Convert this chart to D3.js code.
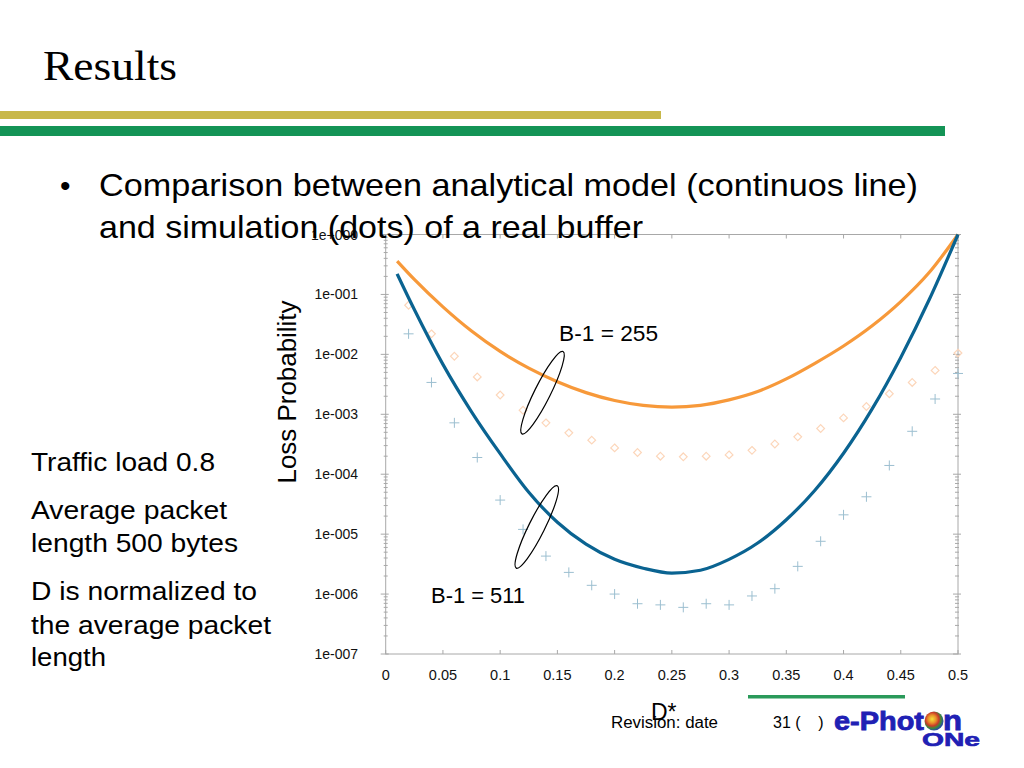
<!DOCTYPE html>
<html>
<head>
<meta charset="utf-8">
<script src="https://cdn.jsdelivr.net/npm/d3@7"></script>
<style>
html,body{margin:0;padding:0;background:#fff;}
svg{display:block;}
text{font-family:"Liberation Sans",Arial,sans-serif;}
</style>
</head>
<body>
<svg id="c" width="1024" height="768"></svg>
<script>
// ---------------- data ----------------
const xTicks = [0, 0.05, 0.1, 0.15, 0.2, 0.25, 0.3, 0.35, 0.4, 0.45, 0.5];
const xTickLabels = ["0", "0.05", "0.1", "0.15", "0.2", "0.25", "0.3", "0.35", "0.4", "0.45", "0.5"];
const yTicks = [1e-7, 1e-6, 1e-5, 1e-4, 1e-3, 1e-2, 1e-1, 1];
const yTickLabels = ["1e-007", "1e-006", "1e-005", "1e-004", "1e-003", "1e-002", "1e-001", "1e+000"];

// analytical model (continuous lines)
const curveD = [0.01, 0.025, 0.05, 0.075, 0.1, 0.125, 0.15, 0.175, 0.2, 0.225, 0.25,
                0.275, 0.3, 0.325, 0.35, 0.375, 0.4, 0.425, 0.45, 0.475, 0.5];
const model255 = [0.36, 0.178, 6.2e-2, 2.45e-2, 1.12e-2, 5.9e-3, 3.5e-3, 2.3e-3, 1.7e-3, 1.41e-3, 1.32e-3,
                  1.41e-3, 1.74e-3, 2.4e-3, 3.9e-3, 7.1e-3, 1.38e-2, 3.0e-2, 7.6e-2, 0.234, 1.0];
const model511 = [0.22, 5.6e-2, 6.8e-3, 1.1e-3, 2.2e-4, 5.0e-5, 1.58e-5, 6.8e-6, 3.8e-6, 2.7e-6, 2.24e-6,
                  2.5e-6, 3.8e-6, 7.1e-6, 1.74e-5, 5.4e-5, 2.24e-4, 1.23e-3, 8.9e-3, 8.3e-2, 1.0];

// simulation (dots)
const simD = [0.02, 0.04, 0.06, 0.08, 0.10, 0.12, 0.14, 0.16, 0.18, 0.20, 0.22, 0.24, 0.26,
              0.28, 0.30, 0.32, 0.34, 0.36, 0.38, 0.40, 0.42, 0.44, 0.46, 0.48, 0.50];
const sim255 = [6.6e-2, 2.2e-2, 9.3e-3, 4.2e-3, 2.1e-3, 1.17e-3, 7.2e-4, 4.9e-4, 3.7e-4, 2.75e-4, 2.3e-4, 2.0e-4, 1.95e-4,
                2.0e-4, 2.1e-4, 2.5e-4, 3.2e-4, 4.2e-4, 5.8e-4, 8.7e-4, 1.35e-3, 2.2e-3, 3.4e-3, 5.4e-3, 1.05e-2];
const sim511 = [2.2e-2, 3.4e-3, 7.2e-4, 1.9e-4, 3.7e-5, 1.2e-5, 4.3e-6, 2.3e-6, 1.4e-6, 1.0e-6, 6.9e-7, 6.6e-7, 6.0e-7,
                6.9e-7, 6.6e-7, 9.3e-7, 1.23e-6, 2.9e-6, 7.6e-6, 2.1e-5, 4.2e-5, 1.4e-4, 5.2e-4, 1.8e-3, 4.8e-3];

const seriesLabels = ["B-1 = 255", "B-1 = 511"];
const leftNotes = ["Traffic load 0.8", "Average packet", "length 500 bytes", "D is normalized to", "the average packet", "length"];

// ---------------- drawing ----------------
const svg = d3.select("#c");
const x = d3.scaleLinear().domain([0, 0.5]).range([385.7, 958]);
const y = d3.scaleLog().domain([1e-7, 1]).range([654, 234.5]);

// slide header
svg.append("text").attr("x", 43).attr("y", 80)
  .style("font-family", "'Liberation Serif','Times New Roman',serif")
  .attr("font-size", 42).attr("textLength", 134).attr("lengthAdjust", "spacingAndGlyphs")
  .text("Results");
svg.append("rect").attr("x", 0).attr("y", 111).attr("width", 661).attr("height", 8).attr("fill", "#c8b84a");
svg.append("rect").attr("x", 0).attr("y", 126).attr("width", 945).attr("height", 10).attr("fill", "#149456");

// chart frame
const g = svg.append("g");
const axisColor = "#a8a8a8";
g.append("rect").attr("x", x(0)).attr("y", y(1)).attr("width", x(0.5) - x(0)).attr("height", y(1e-7) - y(1))
  .attr("fill", "none").attr("stroke", axisColor).attr("stroke-width", 1);

// x ticks (bottom + top, inward)
xTicks.forEach((t, i) => {
  g.append("line").attr("x1", x(t)).attr("x2", x(t)).attr("y1", y(1e-7)).attr("y2", y(1e-7) - 4)
    .attr("stroke", axisColor);
  g.append("line").attr("x1", x(t)).attr("x2", x(t)).attr("y1", y(1)).attr("y2", y(1) + 4)
    .attr("stroke", axisColor);
  g.append("text").attr("x", x(t)).attr("y", y(1e-7) + 26).attr("text-anchor", "middle")
    .attr("font-size", 14.5).attr("fill", "#111").text(xTickLabels[i]);
});

// y ticks major + minor
const minor = [];
yTicks.slice(0, -1).forEach(d => { for (let k = 2; k <= 9; k++) minor.push(d * k); });
minor.forEach(m => {
  g.append("line").attr("x1", x(0) - 2).attr("x2", x(0) + 2).attr("y1", y(m)).attr("y2", y(m)).attr("stroke", axisColor);
  g.append("line").attr("x1", x(0.5) - 3).attr("x2", x(0.5) + 1).attr("y1", y(m)).attr("y2", y(m)).attr("stroke", axisColor);
});
yTicks.forEach((t, i) => {
  g.append("line").attr("x1", x(0) - 5).attr("x2", x(0) + 3).attr("y1", y(t)).attr("y2", y(t)).attr("stroke", axisColor);
  g.append("line").attr("x1", x(0.5) - 5).attr("x2", x(0.5) + 3).attr("y1", y(t)).attr("y2", y(t)).attr("stroke", axisColor);
  g.append("text").attr("x", 358).attr("y", y(t) + 5).attr("text-anchor", "end")
    .attr("font-size", 14).attr("fill", "#111").text(yTickLabels[i]);
});

// simulation markers
const diamond = d3.symbol().type(d3.symbolDiamond2).size(38);
simD.forEach((d, i) => {
  g.append("path").attr("d", diamond()).attr("transform", `translate(${x(d)},${y(sim255[i])})`)
    .attr("fill", "none").attr("stroke", "#fcd6ba").attr("stroke-width", 1.2);
});
simD.forEach((d, i) => {
  const cx = x(d), cy = y(sim511[i]);
  g.append("path").attr("d", `M${cx - 5},${cy}H${cx + 5}M${cx},${cy - 5}V${cy + 5}`)
    .attr("stroke", "#9cbfd0").attr("stroke-width", 1);
});

// model curves
const line = d3.line().x(d => x(d[0])).y(d => y(d[1])).curve(d3.curveMonotoneX);
g.append("path").attr("d", line(curveD.map((d, i) => [d, model255[i]])))
  .attr("fill", "none").attr("stroke", "#f7993a").attr("stroke-width", 3.2);
g.append("path").attr("d", line(curveD.map((d, i) => [d, model511[i]])))
  .attr("fill", "none").attr("stroke", "#0a6391").attr("stroke-width", 3.2);

// annotations (ellipses + labels)
[[0.137, Math.pow(10, -2.64)], [0.132, Math.pow(10, -4.88)]].forEach(c => {
  g.append("ellipse").attr("cx", 0).attr("cy", 0).attr("rx", 46).attr("ry", 8)
    .attr("transform", `translate(${x(c[0])},${y(c[1])}) rotate(-63.5)`)
    .attr("fill", "none").attr("stroke", "#000").attr("stroke-width", 1.2);
});
g.append("text").attr("x", x(0.1515)).attr("y", y(Math.pow(10, -1.65)) + 8).attr("font-size", 22)
  .attr("textLength", 99).attr("lengthAdjust", "spacingAndGlyphs").text(seriesLabels[0]);
g.append("text").attr("x", x(0.0396)).attr("y", y(Math.pow(10, -6.02)) + 8).attr("font-size", 22)
  .attr("textLength", 94).attr("lengthAdjust", "spacingAndGlyphs").text(seriesLabels[1]);

// axis titles
svg.append("text").attr("transform", "translate(296,392) rotate(-90)").attr("text-anchor", "middle")
  .attr("font-size", 25).attr("textLength", 183).attr("lengthAdjust", "spacingAndGlyphs").text("Loss Probability");
svg.append("text").attr("x", 651).attr("y", 720).attr("font-size", 23).text("D*");

// bullet text
svg.append("text").attr("x", 60).attr("y", 196).attr("font-size", 30).text("•");
svg.append("text").attr("x", 99).attr("y", 196).attr("font-size", 32)
  .attr("textLength", 819).attr("lengthAdjust", "spacingAndGlyphs").text("Comparison between analytical model (continuos line)");
svg.append("text").attr("x", 99).attr("y", 238).attr("font-size", 32)
  .attr("textLength", 544).attr("lengthAdjust", "spacingAndGlyphs").text("and simulation (dots) of a real buffer");

// left notes
const noteY = [471, 519, 552, 600, 634, 666];
const noteW = [184, 196, 207, 226, 240, 75];
leftNotes.forEach((t, i) => {
  svg.append("text").attr("x", 31).attr("y", noteY[i]).attr("font-size", 26)
    .attr("textLength", noteW[i]).attr("lengthAdjust", "spacingAndGlyphs").text(t);
});

// footer
svg.append("rect").attr("x", 748).attr("y", 695).attr("width", 157).attr("height", 3.5).attr("fill", "#2a9a5a");
svg.append("text").attr("x", 611).attr("y", 728).attr("font-size", 16)
  .attr("textLength", 107).attr("lengthAdjust", "spacingAndGlyphs").text("Revision: date");
svg.append("text").attr("x", 773).attr("y", 728).attr("font-size", 16)
  .style("white-space", "pre").text("31 (    )");

const defs = svg.append("defs");
const rg = defs.append("radialGradient").attr("id", "globe").attr("cx", "40%").attr("cy", "40%").attr("r", "60%");
[["0%", "#f2e23a"], ["35%", "#e8902a"], ["60%", "#c83a2a"], ["80%", "#3a8a3a"], ["100%", "#2a4aa0"]].forEach(s =>
  rg.append("stop").attr("offset", s[0]).attr("stop-color", s[1]));
svg.append("text").attr("x", 834).attr("y", 730).attr("font-size", 26).attr("font-weight", "bold")
  .attr("fill", "#2020b4").attr("stroke", "#2020b4").attr("stroke-width", 0.8)
  .attr("textLength", 90).attr("lengthAdjust", "spacingAndGlyphs").text("e-Phot");
svg.append("circle").attr("cx", 934).attr("cy", 721).attr("r", 9.5).attr("fill", "url(#globe)");
svg.append("text").attr("x", 943).attr("y", 730).attr("font-size", 28).attr("font-weight", "bold")
  .attr("fill", "#2020b4").attr("stroke", "#2020b4").attr("stroke-width", 0.8)
  .attr("textLength", 19).attr("lengthAdjust", "spacingAndGlyphs").text("n");
svg.append("text").attr("x", 922).attr("y", 746).attr("font-size", 18).attr("font-weight", "bold")
  .attr("fill", "#2020b4").attr("stroke", "#2020b4").attr("stroke-width", 0.6)
  .attr("textLength", 58).attr("lengthAdjust", "spacingAndGlyphs").text("ONe");
</script>
</body>
</html>
